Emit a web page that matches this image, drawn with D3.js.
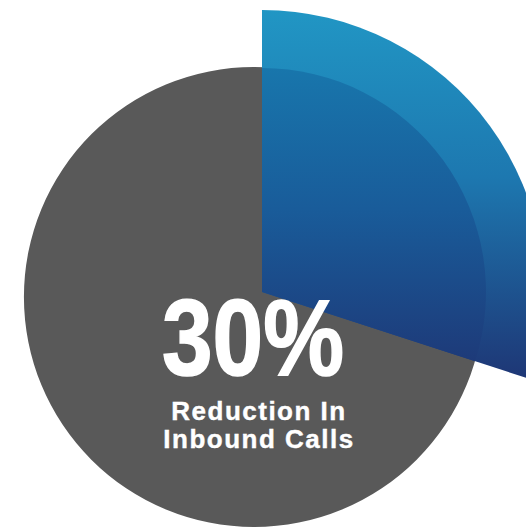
<!DOCTYPE html>
<html>
<head>
<meta charset="utf-8">
<script src="https://cdn.jsdelivr.net/npm/d3@7"></script>
<style>
html,body{margin:0;padding:0;background:#fff;}
svg{display:block;}
</style>
</head>
<body>
<svg id="chart" width="526" height="528"></svg>
<script>
// ---- data ----
const categories = ["Reduction In Inbound Calls", "Remaining Calls"];
const values = [30, 70];
const labelLines = ["Reduction In", "Inbound Calls"];

const svg = d3.select("#chart");
const total = d3.sum(values);

const pie = d3.pie().sort(null).value(d => d).startAngle(0).endAngle(2 * Math.PI);
const slices = pie(values);

// layout
const cx = 254, cy = 297, baseR = 230;
const bx = 262, by = 292, outerR = 282, innerR = 224;

const defs = svg.append("defs");
const g1 = defs.append("linearGradient").attr("id", "blueOuter")
  .attr("gradientUnits", "userSpaceOnUse").attr("x1", 0).attr("y1", -outerR).attr("x2", 0).attr("y2", 88);
g1.append("stop").attr("offset", 0).attr("stop-color", "#2196c4");
g1.append("stop").attr("offset", 0.45).attr("stop-color", "#1d78b0");
g1.append("stop").attr("offset", 1).attr("stop-color", "#1e3675");

const g2 = defs.append("linearGradient").attr("id", "blueInner")
  .attr("gradientUnits", "userSpaceOnUse").attr("x1", 0).attr("y1", -innerR).attr("x2", 0).attr("y2", 88);
g2.append("stop").attr("offset", 0).attr("stop-color", "#1876ac");
g2.append("stop").attr("offset", 0.45).attr("stop-color", "#195c9a");
g2.append("stop").attr("offset", 1).attr("stop-color", "#1e3675");

// gray full pie (total)
const baseArc = d3.arc().innerRadius(0).outerRadius(baseR);
svg.append("path")
  .attr("transform", `translate(${cx},${cy})`)
  .attr("d", baseArc({startAngle: 0, endAngle: 2 * Math.PI}))
  .attr("fill", "#595959");

// highlighted slice
const hl = slices[0];
const outerArc = d3.arc().innerRadius(0).outerRadius(outerR);
const innerArc = d3.arc().innerRadius(0).outerRadius(innerR);
const gb = svg.append("g").attr("transform", `translate(${bx},${by})`);
gb.append("path").attr("d", outerArc(hl)).attr("fill", "url(#blueOuter)");
gb.append("path").attr("d", innerArc(hl)).attr("fill", "url(#blueInner)");

// texts
const pct = Math.round(values[0] / total * 100) + "%";
svg.append("text")
  .attr("transform", "translate(253,375) scale(0.85,1)")
  .attr("text-anchor", "middle")
  .attr("font-family", "'Liberation Sans', Arial, sans-serif")
  .attr("font-weight", "bold")
  .attr("font-size", 107)
  .attr("fill", "#ffffff")
  .attr("stroke", "#ffffff")
  .attr("stroke-width", 1.6)
  .text(pct);

svg.selectAll("text.sub").data(labelLines).join("text")
  .attr("class", "sub")
  .attr("x", 259)
  .attr("y", (d, i) => 420 + i * 28)
  .attr("text-anchor", "middle")
  .attr("font-family", "'Liberation Sans', Arial, sans-serif")
  .attr("font-weight", "bold")
  .attr("font-size", 26)
  .attr("letter-spacing", 1.5)
  .attr("fill", "#ffffff")
  .attr("stroke", "#ffffff")
  .attr("stroke-width", 0.4)
  .text(d => d);
</script>
</body>
</html>
